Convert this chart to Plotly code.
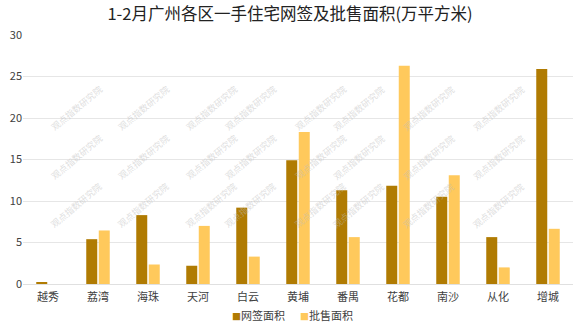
import plotly.graph_objects as go

categories = ["越秀", "荔湾", "海珠", "天河", "白云", "黄埔", "番禺", "花都", "南沙", "从化", "增城"]
signed_area = [0.2, 5.4, 8.3, 2.2, 9.2, 14.9, 11.3, 11.85, 10.5, 5.65, 25.9]
approved_area = [0, 6.45, 2.35, 7.0, 3.3, 18.3, 5.65, 26.3, 13.1, 2.0, 6.65]
series_names = ["网签面积", "批售面积"]
series_colors = ["#B07B02", "#FFC95C"]
title_text = "1-2月广州各区一手住宅网签及批售面积(万平方米)"
watermark = "观点指数研究院"

FONT = "Noto Sans CJK SC, Microsoft YaHei, sans-serif"

fig = go.Figure()
for vals, name, col in zip([signed_area, approved_area], series_names, series_colors):
    fig.add_trace(go.Bar(x=categories, y=vals, name=name, showlegend=False,
                         marker=dict(color=col, line=dict(width=0))))

# compact legend: one text item per series with a coloured square
for name, col, px in zip(series_names, series_colors, [0.428, 0.551]):
    fig.add_annotation(text=f"<span style='color:{col};font-size:9px'>■</span>{name}",
                       xref="paper", yref="paper", x=px, y=-0.125,
                       xanchor="center", yanchor="middle", showarrow=False,
                       font=dict(size=11, color="#404040", family=FONT))

# faint watermark
wm_x = [45, 112, 180, 250, 320, 390, 460, 530]
wm_y = [80, 157, 234]
for yy in wm_y:
    for xx in wm_x:
        fig.add_annotation(text=watermark, xref="paper", yref="paper",
                           x=(xx - 23) / 550, y=1 - (yy - 35) / 249,
                           showarrow=False, textangle=-40,
                           font=dict(size=9, color="rgba(190,190,190,0.5)", family=FONT))

fig.update_layout(
    width=580, height=326,
    margin=dict(l=23, r=7, t=35, b=42),
    paper_bgcolor="white", plot_bgcolor="white",
    barmode="group", bargap=0.5, bargroupgap=0.12,
    title=dict(text=title_text, x=0.5, xanchor="center", y=0.955, yanchor="middle",
               font=dict(size=16.5, color="#222222", family=FONT)),
    font=dict(family=FONT, size=11, color="#404040"),
    showlegend=False,
    xaxis=dict(showgrid=False, showline=True, linecolor="#e0e0e0", linewidth=1,
               ticks="", automargin=False, ticklabelstandoff=3,
               tickfont=dict(size=11, color="#404040")),
    yaxis=dict(range=[0, 30], dtick=5, showgrid=True, gridcolor="#e6e6e6", gridwidth=1,
               zeroline=False, showline=False, ticks="", automargin=False,
               tickfont=dict(size=11, color="#404040")),
)

fig.write_html("out.html")
